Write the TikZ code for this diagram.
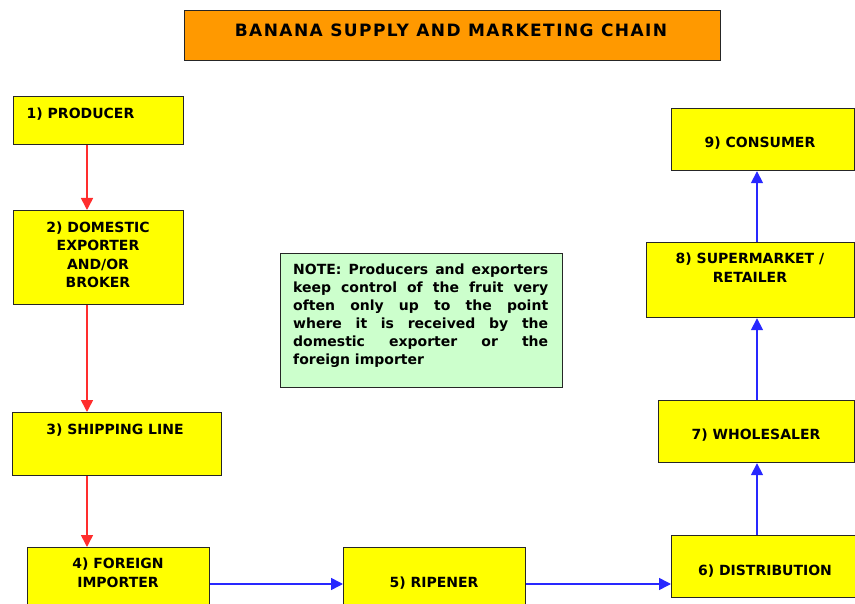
\documentclass[tikz,border=0pt]{standalone}
\usepackage{fontspec}
\setmainfont{DejaVu Sans}
\newfontfamily\titlefont[LetterSpace=8.5]{DejaVu Sans}
\usetikzlibrary{arrows.meta,calc}
\definecolor{boxyellow}{RGB}{255,255,0}
\definecolor{titleorange}{RGB}{255,153,0}
\definecolor{notegreen}{RGB}{204,255,204}
\definecolor{arrred}{RGB}{255,45,45}
\definecolor{arrblue}{RGB}{40,40,255}
\tikzset{
  box/.style={draw=black!85, line width=1.2pt, fill=boxyellow, inner sep=0pt, anchor=north west},
  lbl/.style={inner sep=0pt, anchor=north, align=center, font={\bfseries\fontsize{14pt}{18.5pt}\selectfont}},
  redarr/.style={draw=arrred, line width=1.6pt, -{Triangle[width=12pt,length=12pt]}},
  bluearr/.style={draw=arrblue, line width=1.6pt, -{Triangle[width=12pt,length=12pt]}}
}
\begin{document}
\begin{tikzpicture}[x=1pt,y=-1pt]
\useasboundingbox (0,0) rectangle (855,604);
% title
\node[box, fill=titleorange, minimum width=536pt, minimum height=50pt] (title) at (184,10) {};
\node[inner sep=0pt, anchor=north, font={\titlefont\bfseries\fontsize{17pt}{20pt}\selectfont}] (ttitle) at (451,24) {BANANA SUPPLY AND MARKETING CHAIN};
% boxes
\node[box, minimum width=170pt, minimum height=48pt] (n1) at (13,96) {};
\node[box, minimum width=170pt, minimum height=94pt] (n2) at (13,210) {};
\node[box, minimum width=209pt, minimum height=63pt] (n3) at (12,412) {};
\node[box, minimum width=182pt, minimum height=80pt] (n4) at (27,547) {};
\node[box, minimum width=182pt, minimum height=80pt] (n5) at (343,547) {};
\node[box, minimum width=200pt, minimum height=62pt] (n6) at (671,535) {};
\node[box, minimum width=196pt, minimum height=62pt] (n7) at (658,400) {};
\node[box, minimum width=208pt, minimum height=75pt] (n8) at (646,242) {};
\node[box, minimum width=183pt, minimum height=62pt] (n9) at (671,108) {};
\node[box, fill=notegreen, minimum width=282pt, minimum height=134pt] (note) at (280,253) {};
% labels
\node[lbl] (t1) at (80.5,107.5) {1) PRODUCER};
\node[lbl] (t2) at (98,221.5) {2) DOMESTIC\\EXPORTER\\AND/OR\\BROKER};
\node[lbl] (t3) at (115,423.5) {3) SHIPPING LINE};
\node[lbl] (t4) at (118,558) {4) FOREIGN\\IMPORTER};
\node[lbl] (t5) at (434,576.5) {5) RIPENER};
\node[lbl] (t6) at (765,564.5) {6) DISTRIBUTION};
\node[lbl] (t7) at (756,429) {7) WHOLESALER};
\node[lbl] (t8) at (750,253) {8) SUPERMARKET /\\RETAILER};
\node[lbl] (t9) at (760,137) {9) CONSUMER};
\node[inner sep=0pt, anchor=north west, align=left, font={\bfseries\fontsize{14pt}{18pt}\selectfont}] (tnote) at (293,263.5)
{\makebox[255pt][s]{NOTE: Producers and exporters}\\
 \makebox[255pt][s]{keep control of the fruit very}\\
 \makebox[255pt][s]{often only up to the point}\\
 \makebox[255pt][s]{where it is received by the}\\
 \makebox[255pt][s]{domestic exporter or the}\\
 foreign importer};
% connectors
\coordinate (ax) at (87,0);
\coordinate (ay) at (0,584);
\coordinate (bx) at (757,0);
\draw[redarr] (n1.south -| ax) -- (n2.north -| ax);
\draw[redarr] (n2.south -| ax) -- (n3.north -| ax);
\draw[redarr] (n3.south -| ax) -- (n4.north -| ax);
\draw[bluearr] (n4.east |- ay) -- (n5.west |- ay);
\draw[bluearr] (n5.east |- ay) -- (n6.west |- ay);
\draw[bluearr] (n6.north -| bx) -- (n7.south -| bx);
\draw[bluearr] (n7.north -| bx) -- (n8.south -| bx);
\draw[bluearr] (n8.north -| bx) -- (n9.south -| bx);
\end{tikzpicture}
\end{document}
